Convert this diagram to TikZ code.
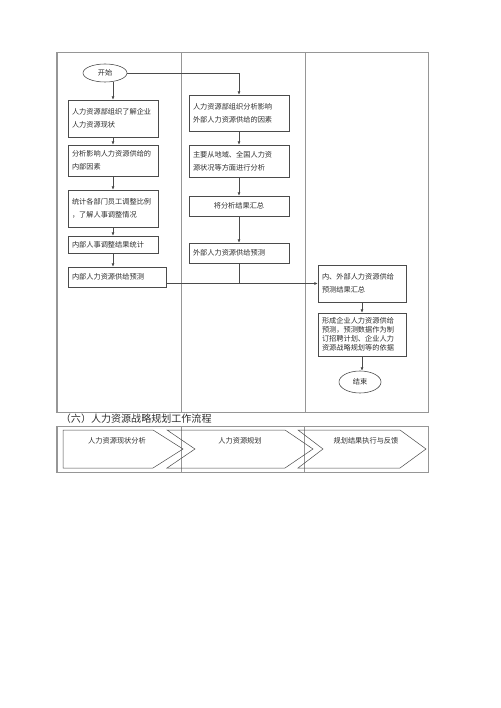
\documentclass[tikz,border=0pt]{standalone}
\usepackage{fontspec}
\setmainfont{Noto Sans CJK SC}
\usepackage{tikz}
\usetikzlibrary{
  arrows.meta,
  positioning,
  shapes.geometric,
  calc
}
\definecolor{framegray}{RGB}{150,150,150}
\definecolor{boxgray}{RGB}{75,75,75}
\definecolor{inkgray}{RGB}{45,45,45}
\newcommand{\pxu}{0.042cm}

\begin{document}
\begin{tikzpicture}[x=\pxu, y=-\pxu,
  frame/.style={draw=framegray, line width=1.2pt},
  box/.style={draw=boxgray, line width=0.7pt, rectangle, inner xsep=4*\pxu, inner ysep=0pt, align=left, text=inkgray, font=\fontsize{8.6}{16}\selectfont},
  oval/.style={draw=boxgray, line width=0.7pt, ellipse, inner sep=0pt, text=inkgray, font=\fontsize{8.6}{10}\selectfont},
  arr/.style={-{Latex[length=4pt,width=3.6pt]}, draw=boxgray, line width=0.7pt},
  link/.style={draw=boxgray, line width=0.7pt},
  chev/.style={draw=boxgray, line width=0.6pt, line join=miter},
  chevtext/.style={text=inkgray, font=\fontsize{8.6}{10}\selectfont}
]
  \useasboundingbox (0,0) rectangle (500,708);

  % table frame
  \draw[frame] (57,53) rectangle (428,412);
  \draw[frame] (181,53) -- (181,412);
  \draw[frame] (305,53) -- (305,412);

  % left column
  \node[oval, minimum width=44*\pxu, minimum height=18*\pxu] (start) at (105,73) {开始};
  \node[box, minimum width=90*\pxu, text width=82*\pxu, minimum height=37*\pxu] (survey) at (113,118.5) {人力资源部组织了解企业\\人力资源现状};
  \node[box, minimum width=90*\pxu, text width=82*\pxu, minimum height=31*\pxu] (inner) at (113,160.5) {分析影响人力资源供给的\\内部因素};
  \node[box, minimum width=90*\pxu, text width=82*\pxu, minimum height=37*\pxu] (adjust) at (113,208.5) {统计各部门员工调整比例\\，了解人事调整情况};
  \node[box, minimum width=90*\pxu, text width=82*\pxu, minimum height=17*\pxu] (stat) at (113,244.5) {内部人事调整结果统计};
  \node[box, minimum width=98*\pxu, text width=90*\pxu, minimum height=20*\pxu] (inpred) at (117,277) {内部人力资源供给预测};

  % middle column
  \node[box, minimum width=100*\pxu, text width=92*\pxu, minimum height=36*\pxu] (outer1) at (239,113) {人力资源部组织分析影响\\外部人力资源供给的因素};
  \node[box, minimum width=100*\pxu, text width=92*\pxu, minimum height=32*\pxu] (outer2) at (239,161) {主要从地域、全国人力资\\源状况等方面进行分析};
  \node[box, align=center, minimum width=100*\pxu, text width=92*\pxu, minimum height=20*\pxu] (summ) at (239,206) {将分析结果汇总};
  \node[box, minimum width=100*\pxu, text width=92*\pxu, minimum height=20*\pxu] (outpred) at (239,253) {外部人力资源供给预测};

  % right column
  \node[box, minimum width=88*\pxu, text width=80*\pxu, minimum height=37*\pxu] (merge) at (362,283.5) {内、外部人力资源供给\\预测结果汇总};
  \node[box, font=\fontsize{8.6}{10.7}\selectfont, minimum width=88*\pxu, text width=80*\pxu, minimum height=43*\pxu] (result) at (362,334.5) {形成企业人力资源供给\\预测，预测数据作为制\\订招聘计划、企业人力\\资源战略规划等的依据};
  \node[oval, minimum width=42*\pxu, minimum height=22*\pxu] (finish) at (360,382) {结束};

  % connectors
  \draw[arr] (survey.north |- start.south) -- (survey.north);
  \draw[arr] (start.east) -| (outer1.north);
  \draw[arr] (survey) -- (inner);
  \draw[arr] (inner) -- (adjust);
  \draw[arr] (adjust) -- (stat);
  \draw[arr] (stat.south) -- (stat.south |- inpred.north);
  \draw[arr] (outer1) -- (outer2);
  \draw[arr] (outer2) -- (summ);
  \draw[arr] (summ) -- (outpred);
  \draw[link] (outpred.south) -- (outpred.south |- merge.west);
  \draw[arr] (inpred.east |- merge.west) -- (merge.west);
  \draw[arr] (merge) -- (result);
  \draw[arr] (result.south) -- (result.south |- finish.north);

  % section title
  \node[anchor=west, text=inkgray, font=\fontsize{12}{14}\selectfont] (title) at (58,419) {（六）人力资源战略规划工作流程};

  % process strip
  \draw[frame] (57,426) rectangle (428,472);
  \draw[frame] (181,426) -- (181,472);
  \draw[frame] (304,426) -- (304,472);
  \draw[chev] (63,430) -- (153,430) -- (183,449) -- (153,468) -- (63,468) -- cycle;
  \draw[chev] (167,430) -- (285,430) -- (313,449) -- (285,468) -- (167,468) -- (195,449) -- cycle;
  \draw[chev] (298,430) -- (400,430) -- (426,449) -- (400,468) -- (298,468) -- (323,449) -- cycle;
  \node[chevtext] (phase1) at (117,441) {人力资源现状分析};
  \node[chevtext] (phase2) at (240,441) {人力资源规划};
  \node[chevtext] (phase3) at (366,441) {规划结果执行与反馈};
\end{tikzpicture}
\end{document}
